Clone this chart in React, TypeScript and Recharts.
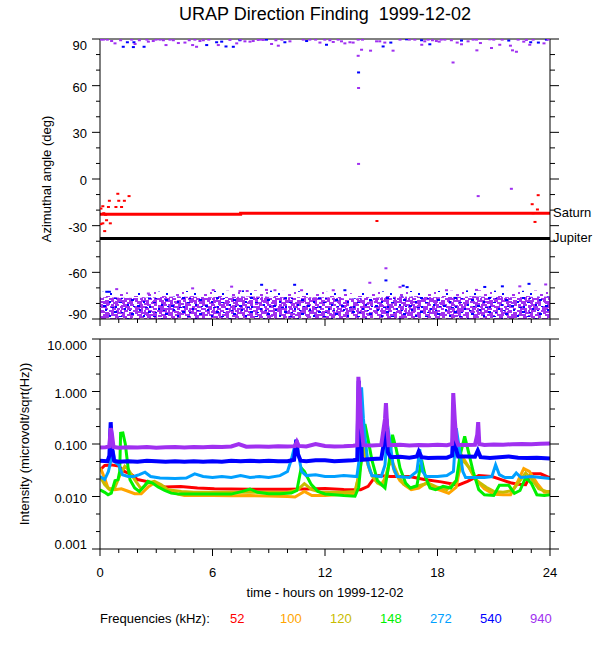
import {
  ComposedChart,
  Line,
  Scatter,
  Area,
  XAxis,
  YAxis,
  ReferenceLine,
  Label,
} from "recharts";

const FONT = "'Liberation Sans', Arial, Helvetica, sans-serif";

// ---- axes ----
const HOUR_TICKS = [0, 1, 2, 3, 4, 5, 6, 7, 8, 9, 10, 11, 12, 13, 14, 15, 16, 17, 18, 19, 20, 21, 22, 23, 24];
const HOUR_MAJOR = [0, 6, 12, 18, 24];
const ANGLE_TICKS = [-90, -80, -70, -60, -50, -40, -30, -20, -10, 0, 10, 20, 30, 40, 50, 60, 70, 80, 90];
const ANGLE_MAJOR = [-90, -60, -30, 0, 30, 60, 90];
const INTENSITY_TICKS = [0.001, 0.00215, 0.00464, 0.01, 0.0215, 0.0464, 0.1, 0.215, 0.464, 1, 2.15, 4.64, 10];
const INTENSITY_MAJOR = [0.001, 0.01, 0.1, 1, 10];

// ---- top panel: direction finding ----
const SATURN_HOURS = [0, 7.5, 7.5, 24];
const SATURN_DEG = [-22.7, -22.7, -22.0, -22.0];
const JUPITER_DEG = -38.2;

const BAND_HOURS = [0, 2, 4, 6, 8, 10, 12, 13.5, 14.2, 16, 18, 20, 22, 24];
const BAND_FLOOR = [-90, -90, -90, -90, -90, -90, -90, -90, -90, -90, -90, -90, -90, -90];
const BAND_TOP = [-76, -76.5, -75.5, -76, -75.5, -76, -76, -77, -76.5, -75.5, -76, -75.5, -76, -75.5];
const FRINGE_TOP = [-72.5, -73, -72, -72, -71.5, -72, -72.5, -73.5, -72.5, -72, -72, -71.5, -72, -71.5];

const DF_940_POINTS: [number, number][] = [
  [0.05, 89.6], [0.18, 89.6], [0.39, 89.6], [0.62, 88.7], [0.8, 87.2], [1.1, 89.2], [1.69, 89.6],
  [1.87, 86.8], [2.1, 89.2], [2.5, 89.6], [2.58, 88.3], [2.84, 88.7], [2.99, 89.6], [3.2, 89.6],
  [3.38, 89.2], [3.52, 86.1], [3.73, 89.6], [3.91, 89.2], [4.18, 87.4], [4.53, 87.7], [4.76, 89.2],
  [4.94, 86.1], [5.06, 89.6], [5.15, 85.0], [5.33, 88.7], [5.51, 89.2], [5.8, 89.6], [6.31, 86.1],
  [6.93, 89.4], [7.29, 87.2], [7.5, 89.6], [7.73, 88.5], [8.0, 88.3], [8.17, 88.7], [8.44, 89.4],
  [8.6, 89.6], [8.71, 89.4], [9.15, 86.8], [9.38, 89.2], [9.51, 85.7], [9.7, 89.6], [10.13, 88.5],
  [10.84, 89.6], [11.19, 89.6], [11.5, 89.6], [11.73, 87.7], [11.99, 89.6], [12.26, 89.2], [12.44, 88.1],
  [12.7, 89.6], [12.88, 88.5], [13.06, 87.2], [13.33, 87.9], [13.5, 87.7], [13.77, 89.6], [13.77, 79.2],
  [13.79, 58.5], [13.79, 9.7], [13.95, 83.1], [14.0, 89.6], [14.43, 82.5], [14.75, 88.5], [14.92, 88.5],
  [15.19, 87.7], [15.63, 82.5], [16.0, 89.6], [16.5, 89.6], [16.79, 89.6], [17.16, 86.3], [17.32, 88.5],
  [17.5, 89.6], [17.73, 89.2], [17.94, 88.7], [18.09, 88.3], [18.2, 89.6], [18.39, 89.6], [18.74, 89.2],
  [18.83, 74.9], [19.05, 87.7], [19.28, 86.6], [19.63, 88.5], [19.9, 89.6], [20.08, 89.6], [20.1, 82.7],
  [20.29, 87.4], [20.79, 89.8], [20.88, 84.2], [21.0, 89.6], [21.32, 86.3], [21.45, 89.6], [21.89, 85.7],
  [22.0, 82.7], [22.21, 81.8], [22.3, 89.6], [22.6, 88.3], [22.74, 89.4], [22.92, 86.3], [23.1, 89.6],
  [23.68, 87.2], [23.9, 89.6],
  [21.94, -6.3], [20.17, -11], [15.25, -57.4],
  [0.89, -70.8], [2.58, -73.6], [4.94, -70.3], [6.04, -71.4], [7.02, -69.2], [7.46, -72], [7.85, -72],
  [8.88, -71.3], [9.33, -71.5], [10.75, -71.5], [12.44, -71.5], [14.39, -66.7], [16.0, -69.5],
  [18.48, -71.5], [20.08, -71.3], [22.39, -69], [23.77, -67.8],
];

const DF_540_POINTS: [number, number][] = [
  [1.24, 85.0], [1.46, 87.9], [1.78, 84.8], [1.81, 87.9], [2.35, 85.0], [5.69, 86.1], [6.22, 87.9],
  [6.49, 88.3], [6.72, 85.2], [7.11, 85.0], [7.46, 89.2], [8.88, 89.6], [9.86, 87.9], [11.02, 88.7],
  [12.08, 86.3], [13.79, 68.5], [15.1, 85.2], [15.51, 87.7], [16.35, 89.8], [17.15, 89.2], [17.59, 86.6],
  [19.28, 89.0], [21.8, 89.0], [22.97, 87.9], [23.38, 87.7], [23.81, 89.6],
  [0.36, -72.5], [0.5, -72.5], [8.62, -68], [10.38, -68], [13.06, -71.5], [15.25, -65.2], [16.17, -68.6],
  [16.38, -69.5], [20.52, -69.4], [21.46, -69], [22.88, -67.4],
];

const DF_52_POINTS: [number, number][] = [
  [0.05, -19], [0.15, -17.5], [0.2, -22], [0.3, -23], [0.35, -26.5], [0.05, -29], [0.15, -28.5],
  [0.25, -33.5], [0.45, -18], [0.5, -14], [0.55, -28.5], [0.85, -18], [0.95, -9.5], [1.0, -14],
  [1.15, -18], [1.3, -14], [1.55, -11], [14.77, -27],
  [23.05, -16.2], [23.1, -22], [23.2, -27.6], [23.33, -19.6], [23.37, -10.4],
];

// ---- bottom panel: intensity per frequency, [hour, microvolt/sqrt(Hz)] ----
const FREQS = ["52", "100", "120", "148", "272", "540", "940"];
const FREQ_COLORS = ["#ff0000", "#ffa500", "#c8bc00", "#00f000", "#00a0ff", "#0000ff", "#a030f0"];

const I_52: [number, number][] = [
  [0, 0.032], [0.25, 0.039], [0.6, 0.04], [1, 0.038], [1.3, 0.03], [1.7, 0.026], [2.0, 0.021], [2.6, 0.019],
  [3.45, 0.0152], [4.3, 0.0155], [5.2, 0.0145], [6.1, 0.014], [7, 0.0139], [8, 0.0138], [9, 0.0138],
  [10, 0.0137], [11, 0.0139], [12, 0.0142], [13, 0.0136], [13.9, 0.0135], [14.3, 0.0156], [14.6, 0.022],
  [14.85, 0.025], [15.5, 0.024], [16.5, 0.024], [17.3, 0.021], [18.2, 0.019], [19.1, 0.0165], [19.6, 0.0195],
  [20.2, 0.025], [20.9, 0.024], [21.4, 0.021], [21.95, 0.018], [22.3, 0.0172], [22.7, 0.0168], [23.0, 0.027],
  [23.5, 0.027], [24, 0.0225],
];

const I_100: [number, number][] = [
  [0, 0.035], [0.1, 0.03], [0.25, 0.022], [0.43, 0.0145], [0.78, 0.0135], [1.14, 0.014], [1.5, 0.0126],
  [1.85, 0.0113], [2.2, 0.0113], [2.56, 0.0151], [2.9, 0.018], [3.27, 0.016], [3.62, 0.0131], [4.16, 0.0111],
  [4.5, 0.0104], [5, 0.0104], [6, 0.0104], [7, 0.0103], [8, 0.0104], [9, 0.0102], [10, 0.01], [10.4, 0.0098],
  [10.9, 0.0125], [11.3, 0.0104], [12, 0.0105], [13, 0.011], [13.6, 0.0112], [13.8, 0.025], [14.0, 0.1],
  [14.15, 0.06], [14.4, 0.03], [14.7, 0.02], [15.0, 0.017], [15.3, 0.025], [15.5, 0.06], [15.7, 0.03],
  [16.0, 0.02], [16.3, 0.016], [16.6, 0.0135], [17.0, 0.0145], [17.4, 0.018], [17.8, 0.0145], [18.2, 0.013],
  [18.6, 0.0115], [19.0, 0.015], [19.3, 0.06], [19.6, 0.04], [20.0, 0.022], [20.5, 0.014], [21.0, 0.011],
  [21.5, 0.0108], [21.9, 0.0108], [22.3, 0.02], [22.6, 0.034], [22.9, 0.03], [23.3, 0.018], [23.7, 0.012],
  [24, 0.012],
];

const I_120: [number, number][] = [
  [0, 0.024], [0.25, 0.0168], [0.52, 0.0134], [0.78, 0.0145], [1.05, 0.025], [1.32, 0.0375], [1.5, 0.033],
  [1.85, 0.0209], [2.2, 0.0139], [2.56, 0.0181], [2.9, 0.0195], [3.27, 0.0168], [3.62, 0.0135], [4.34, 0.0125],
  [5, 0.012], [6, 0.012], [7, 0.012], [8, 0.0121], [9, 0.012], [10, 0.0119], [10.55, 0.0135], [10.9, 0.0176],
  [11.3, 0.0135], [11.8, 0.012], [12, 0.012], [13, 0.012], [13.6, 0.0125], [13.85, 0.03], [14.05, 0.08],
  [14.25, 0.05], [14.5, 0.025], [14.8, 0.018], [15.1, 0.016], [15.4, 0.04], [15.6, 0.045], [15.9, 0.025],
  [16.2, 0.017], [16.6, 0.0145], [17.0, 0.016], [17.5, 0.018], [18.0, 0.015], [18.5, 0.0135], [19.0, 0.02],
  [19.35, 0.05], [19.7, 0.035], [20.1, 0.02], [20.6, 0.015], [21.0, 0.0125], [21.5, 0.012], [22.0, 0.013],
  [22.4, 0.02], [22.7, 0.028], [23.0, 0.022], [23.4, 0.014], [23.8, 0.0125], [24, 0.0125],
];

const I_148: [number, number][] = [
  [0, 0.0134], [0.25, 0.012], [0.43, 0.0108], [0.6, 0.0116], [0.8, 0.02], [0.96, 0.0209], [1.05, 0.03],
  [1.1, 0.16], [1.22, 0.162], [1.35, 0.1], [1.49, 0.0375], [1.6, 0.0209], [1.85, 0.0145], [2.1, 0.0125],
  [2.38, 0.016], [2.56, 0.0194], [2.8, 0.0181], [3.1, 0.0152], [3.45, 0.0131], [3.8, 0.0116], [4.2, 0.0111],
  [5, 0.0111], [6, 0.0112], [7, 0.0111], [7.6, 0.0125], [8.0, 0.0139], [8.4, 0.012], [9.0, 0.0113],
  [9.6, 0.0113], [10.2, 0.0116], [10.5, 0.013], [10.73, 0.035], [10.9, 0.03], [11.27, 0.0168], [11.62, 0.0125],
  [12, 0.0112], [13, 0.0104], [13.6, 0.0101], [13.8, 0.015], [13.95, 0.06], [14.13, 0.24], [14.3, 0.12],
  [14.5, 0.05], [14.8, 0.02], [15.2, 0.0145], [15.4, 0.04], [15.6, 0.15], [15.8, 0.08], [16.0, 0.035],
  [16.3, 0.018], [16.55, 0.0145], [16.9, 0.016], [17.15, 0.05], [17.35, 0.024], [17.6, 0.0145], [17.9, 0.0135],
  [18.3, 0.0156], [18.7, 0.0145], [19.0, 0.02], [19.2, 0.06], [19.45, 0.14], [19.7, 0.06], [19.9, 0.03],
  [20.2, 0.0135], [20.5, 0.0108], [21.0, 0.0105], [21.3, 0.0163], [21.8, 0.0163], [22.1, 0.0115], [22.4, 0.013],
  [22.7, 0.023], [23.0, 0.018], [23.3, 0.0108], [23.7, 0.0105], [24, 0.0108],
];

const I_272: [number, number][] = [
  [0, 0.024], [0.25, 0.021], [0.45, 0.03], [0.7, 0.075], [0.8, 0.045], [1.0, 0.04], [1.2, 0.026], [1.5, 0.024],
  [1.8, 0.024], [2.1, 0.026], [2.4, 0.029], [2.7, 0.024], [3.2, 0.0225], [4, 0.022], [4.6, 0.0225], [5.05, 0.027],
  [5.5, 0.024], [6, 0.023], [6.5, 0.024], [7, 0.023], [7.5, 0.025], [8, 0.023], [8.5, 0.024], [9, 0.023],
  [9.6, 0.025], [10.0, 0.03], [10.2, 0.05], [10.47, 0.12], [10.6, 0.06], [10.75, 0.03], [11, 0.025], [11.5, 0.026],
  [12, 0.024], [12.5, 0.024], [13, 0.025], [13.7, 0.024], [13.85, 0.06], [13.95, 1.2], [14.05, 0.3], [14.15, 0.12],
  [14.3, 0.04], [14.5, 0.025], [15, 0.024], [15.2, 0.04], [15.34, 0.22], [15.5, 0.09], [15.65, 0.035],
  [15.85, 0.024], [16.5, 0.023], [16.9, 0.03], [17.05, 0.08], [17.2, 0.03], [17.4, 0.024], [18, 0.024],
  [18.5, 0.025], [18.85, 0.03], [19.0, 0.2], [19.15, 0.09], [19.35, 0.03], [19.5, 0.023], [20.5, 0.023],
  [20.9, 0.024], [21.1, 0.04], [21.3, 0.026], [21.6, 0.023], [22.0, 0.023], [22.2, 0.028], [22.45, 0.023],
  [23, 0.024], [23.5, 0.023], [24, 0.022],
];

const I_540: [number, number][] = [
  [0, 0.048], [0.4, 0.047], [0.5, 0.06], [0.57, 0.26], [0.65, 0.08], [0.75, 0.048], [1, 0.046], [1.5, 0.047],
  [2, 0.046], [2.5, 0.048], [3, 0.047], [3.5, 0.046], [4, 0.047], [4.5, 0.046], [5, 0.047], [5.5, 0.046],
  [6, 0.047], [6.5, 0.046], [7, 0.048], [7.5, 0.047], [8, 0.048], [8.5, 0.047], [9, 0.048], [9.5, 0.047],
  [10, 0.047], [10.35, 0.05], [10.47, 0.12], [10.55, 0.065], [10.7, 0.048], [11, 0.047], [11.5, 0.049],
  [12, 0.049], [12.5, 0.047], [13, 0.048], [13.5, 0.049], [13.72, 0.05], [13.8, 1.6], [13.88, 0.3],
  [13.97, 0.05], [14.5, 0.052], [15, 0.053], [15.22, 0.15], [15.27, 0.3], [15.35, 0.07], [15.5, 0.056],
  [16, 0.057], [16.5, 0.055], [16.9, 0.058], [17.0, 0.072], [17.15, 0.056], [17.5, 0.054], [18, 0.055],
  [18.5, 0.055], [18.78, 0.06], [18.85, 0.2], [18.95, 0.09], [19.1, 0.058], [19.5, 0.058], [20, 0.057],
  [20.15, 0.075], [20.3, 0.056], [20.8, 0.054], [21.3, 0.056], [21.8, 0.058], [22.3, 0.055], [22.8, 0.054],
  [23.3, 0.055], [24, 0.053],
];

const I_940: [number, number][] = [
  [0, 0.086], [0.3, 0.087], [0.5, 0.09], [0.57, 0.2], [0.64, 0.15], [0.72, 0.088], [1, 0.085], [1.5, 0.087],
  [2, 0.086], [2.5, 0.088], [3, 0.085], [3.5, 0.087], [4, 0.088], [4.5, 0.086], [5, 0.088], [5.5, 0.087],
  [6, 0.089], [6.5, 0.088], [7, 0.09], [7.4, 0.1], [7.8, 0.089], [8.5, 0.09], [9, 0.089], [9.5, 0.091],
  [10, 0.09], [10.4, 0.091], [10.5, 0.11], [10.6, 0.092], [11, 0.09], [11.5, 0.1], [12, 0.092], [12.5, 0.09],
  [13, 0.091], [13.5, 0.093], [13.72, 0.095], [13.78, 1.9], [13.85, 0.9], [13.92, 0.25], [14.05, 0.095],
  [14.5, 0.094], [15, 0.096], [15.2, 0.3], [15.25, 0.6], [15.32, 0.2], [15.4, 0.095], [16, 0.097],
  [16.5, 0.094], [17, 0.096], [17.5, 0.095], [18, 0.097], [18.5, 0.095], [18.78, 0.1], [18.84, 0.93],
  [18.92, 0.3], [19.0, 0.12], [19.1, 0.097], [19.5, 0.096], [20, 0.097], [20.12, 0.15], [20.17, 0.26],
  [20.23, 0.1], [20.5, 0.096], [21, 0.098], [21.5, 0.097], [22, 0.099], [22.5, 0.1], [23, 0.099],
  [23.5, 0.101], [24, 0.102],
];

const INTENSITY_SERIES = [I_52, I_100, I_120, I_148, I_272, I_540, I_940];

const toRows = (pts: [number, number][]) => pts.map(([h, v]) => ({ h, v }));

function hourTick(side: "top" | "bottom", withLabels: boolean) {
  return (p: any) => {
    const v = p.payload.value;
    const major = HOUR_MAJOR.includes(v);
    const len = major ? 7 : 4;
    const dir = side === "top" ? -1 : 1;
    return (
      <g>
        <line x1={p.x} x2={p.x} y1={p.y} y2={p.y + dir * len} stroke="#000" />
        {withLabels && major ? (
          <text x={p.x} y={p.y + 28} textAnchor="middle" fontFamily={FONT} fontSize={13} fill="#000">
            {v}
          </text>
        ) : null}
      </g>
    );
  };
}

function valueTick(
  side: "left" | "right",
  majors: number[],
  lo: number,
  hi: number,
  fmt: (v: number) => string
) {
  return (p: any) => {
    const v = p.payload.value;
    const major = majors.includes(v);
    const len = side === "left" ? (major ? 8 : 4) : major ? 9 : 5;
    const dir = side === "left" ? -1 : 1;
    let cy = p.y + 1.5;
    if (v === hi) cy = p.y + 6;
    if (v === lo) cy = p.y - 4.5;
    return (
      <g>
        <line x1={p.x} x2={p.x + dir * len} y1={p.y} y2={p.y} stroke="#000" />
        {side === "left" && major ? (
          <text
            x={p.x - len - 5}
            y={cy}
            dy="0.35em"
            textAnchor="end"
            fontFamily={FONT}
            fontSize={13}
            fill="#000"
          >
            {fmt(v)}
          </text>
        ) : null}
      </g>
    );
  };
}

function yTitle(text: string, cx: number) {
  return (props: any) => {
    const vb = props.viewBox || {};
    const cy = (vb.y ?? 0) + (vb.height ?? 0) / 2;
    return (
      <text
        x={cx}
        y={cy}
        transform={`rotate(-90, ${cx}, ${cy})`}
        textAnchor="middle"
        dominantBaseline="central"
        fontFamily={FONT}
        fontSize={13}
        fill="#000"
      >
        {text}
      </text>
    );
  };
}

const AXIS_LINE = { stroke: "#000", strokeWidth: 1 };

function DirectionPanel() {
  const band = BAND_HOURS.map((h, i) => ({ h, v: [BAND_FLOOR[i], BAND_TOP[i]] }));
  const fringe = BAND_HOURS.map((h, i) => ({ h, v: [BAND_TOP[i], FRINGE_TOP[i]] }));
  const saturn = SATURN_HOURS.map((h, i) => ({ h, v: SATURN_DEG[i] }));
  const dot = (color: string) => (p: any) => (
    <rect x={p.cx - 1.5} y={p.cy - 1} width={3} height={2} fill={color} />
  );

  return (
    <ComposedChart width={600} height={345} margin={{ top: 0, right: 0, bottom: 0, left: 0 }}>
      <defs>
        <pattern id="dfDense" width={24} height={12} patternUnits="userSpaceOnUse">
          <g fill="#a030f0">
            <rect x={0} y={0} width={5} height={2} />
            <rect x={9} y={0} width={4} height={2} />
            <rect x={15} y={0} width={3} height={2} />
            <rect x={21} y={0} width={3} height={2} />
            <rect x={2} y={2} width={3} height={2} />
            <rect x={7} y={2} width={6} height={2} />
            <rect x={17} y={2} width={5} height={2} />
            <rect x={3} y={4} width={4} height={2} />
            <rect x={10} y={4} width={3} height={2} />
            <rect x={19} y={4} width={4} height={2} />
            <rect x={0} y={6} width={3} height={2} />
            <rect x={5} y={6} width={5} height={2} />
            <rect x={14} y={6} width={6} height={2} />
            <rect x={1} y={8} width={4} height={2} />
            <rect x={9} y={8} width={3} height={2} />
            <rect x={16} y={8} width={4} height={2} />
            <rect x={21} y={8} width={2} height={2} />
            <rect x={0} y={10} width={2} height={2} />
            <rect x={4} y={10} width={4} height={2} />
            <rect x={13} y={10} width={5} height={2} />
            <rect x={20} y={10} width={3} height={2} />
          </g>
        </pattern>
        <pattern id="dfDense2" width={37} height={10} patternUnits="userSpaceOnUse">
          <g fill="#a030f0">
            <rect x={4} y={1} width={4} height={2} />
            <rect x={13} y={0} width={3} height={2} />
            <rect x={26} y={1} width={5} height={2} />
            <rect x={33} y={3} width={3} height={2} />
            <rect x={0} y={4} width={3} height={2} />
            <rect x={10} y={5} width={4} height={2} />
            <rect x={20} y={4} width={3} height={2} />
            <rect x={29} y={6} width={4} height={2} />
            <rect x={6} y={8} width={3} height={2} />
            <rect x={16} y={8} width={5} height={2} />
            <rect x={24} y={8} width={2} height={2} />
          </g>
        </pattern>
        <pattern id="dfMix" width={34} height={14} patternUnits="userSpaceOnUse">
          <g fill="#0000ff">
            <rect x={3} y={1} width={2} height={2} />
            <rect x={12} y={3} width={3} height={2} />
            <rect x={22} y={0} width={2} height={2} />
            <rect x={29} y={5} width={3} height={2} />
            <rect x={7} y={7} width={2} height={2} />
            <rect x={17} y={8} width={3} height={1} />
            <rect x={25} y={10} width={2} height={2} />
            <rect x={1} y={11} width={3} height={2} />
            <rect x={13} y={12} width={2} height={2} />
            <rect x={31} y={12} width={2} height={1} />
            <rect x={19} y={4} width={2} height={1} />
            <rect x={9} y={13} width={3} height={1} />
            <rect x={27} y={2} width={2} height={1} />
          </g>
        </pattern>
        <pattern id="dfSparse" width={28} height={8} patternUnits="userSpaceOnUse">
          <rect x={2} y={1} width={3} height={2} fill="#a030f0" />
          <rect x={14} y={4} width={2} height={2} fill="#a030f0" />
          <rect x={22} y={0} width={4} height={1} fill="#a030f0" />
          <rect x={8} y={6} width={3} height={2} fill="#a030f0" />
          <rect x={18} y={2} width={2} height={2} fill="#0000ff" />
          <rect x={26} y={5} width={2} height={2} fill="#0000ff" />
        </pattern>
      </defs>

      <XAxis
        dataKey="h"
        type="number"
        domain={[0, 24]}
        allowDataOverflow
        ticks={HOUR_TICKS}
        interval={0}
        tickSize={0}
        tickMargin={0}
        tickLine={false}
        axisLine={AXIS_LINE}
        tick={hourTick("bottom", false)}
        height={26}
      />
      <XAxis
        xAxisId="top"
        orientation="top"
        type="number"
        domain={[0, 24]}
        allowDataOverflow
        ticks={HOUR_TICKS}
        interval={0}
        tickSize={0}
        tickMargin={0}
        tickLine={false}
        axisLine={AXIS_LINE}
        tick={hourTick("top", false)}
        height={39}
      />
      <YAxis
        dataKey="v"
        type="number"
        domain={[-90, 90]}
        allowDataOverflow
        ticks={ANGLE_TICKS}
        interval={0}
        tickSize={0}
        tickMargin={0}
        tickLine={false}
        axisLine={AXIS_LINE}
        tick={valueTick("left", ANGLE_MAJOR, -90, 90, (v) => String(v))}
        width={100}
      >
        <Label content={yTitle("Azimuthal angle (deg)", 46)} />
      </YAxis>
      <YAxis
        yAxisId="right"
        orientation="right"
        type="number"
        domain={[-90, 90]}
        allowDataOverflow
        ticks={ANGLE_TICKS}
        interval={0}
        tickSize={0}
        tickMargin={0}
        tickLine={false}
        axisLine={AXIS_LINE}
        tick={valueTick("right", ANGLE_MAJOR, -90, 90, (v) => String(v))}
        width={50}
      />

      <Area data={band} dataKey="v" fill="url(#dfDense)" fillOpacity={1} stroke="none" isAnimationActive={false} dot={false} activeDot={false} />
      <Area data={band} dataKey="v" fill="url(#dfDense2)" fillOpacity={1} stroke="none" isAnimationActive={false} dot={false} activeDot={false} />
      <Area data={band} dataKey="v" fill="url(#dfMix)" fillOpacity={1} stroke="none" isAnimationActive={false} dot={false} activeDot={false} />
      <Area data={fringe} dataKey="v" fill="url(#dfSparse)" fillOpacity={1} stroke="none" isAnimationActive={false} dot={false} activeDot={false} />

      <Scatter data={toRows(DF_540_POINTS)} dataKey="v" shape={dot("#0000ff")} isAnimationActive={false} />
      <Scatter data={toRows(DF_940_POINTS)} dataKey="v" shape={dot("#a030f0")} isAnimationActive={false} />
      <Scatter data={toRows(DF_52_POINTS)} dataKey="v" shape={dot("#ff0000")} isAnimationActive={false} />

      <Line data={saturn} dataKey="v" type="linear" stroke="#ff0000" strokeWidth={3} dot={false} activeDot={false} isAnimationActive={false} />
      <ReferenceLine
        y={SATURN_DEG[SATURN_DEG.length - 1]}
        stroke="transparent"
        label={{ value: "Saturn", position: "right", offset: 3, fill: "#000", fontSize: 13, fontFamily: FONT, dy: -1 }}
      />
      <ReferenceLine
        y={JUPITER_DEG}
        stroke="#000"
        strokeWidth={3}
        label={{ value: "Jupiter", position: "right", offset: 3, fill: "#000", fontSize: 13, fontFamily: FONT, dy: -1 }}
      />
    </ComposedChart>
  );
}

function IntensityPanel() {
  return (
    <ComposedChart width={600} height={290} margin={{ top: 0, right: 0, bottom: 0, left: 0 }}>
      <XAxis
        dataKey="h"
        type="number"
        domain={[0, 24]}
        allowDataOverflow
        ticks={HOUR_TICKS}
        interval={0}
        tickSize={0}
        tickMargin={0}
        tickLine={false}
        axisLine={AXIS_LINE}
        tick={hourTick("bottom", true)}
        height={61}
      >
        <Label
          content={(props: any) => {
            const vb = props.viewBox || {};
            return (
              <text
                x={(vb.x ?? 0) + (vb.width ?? 0) / 2}
                y={(vb.y ?? 0) + 48}
                textAnchor="middle"
                fontFamily={FONT}
                fontSize={13}
                fill="#000"
              >
                time - hours on 1999-12-02
              </text>
            );
          }}
        />
      </XAxis>
      <XAxis
        xAxisId="top"
        orientation="top"
        type="number"
        domain={[0, 24]}
        allowDataOverflow
        ticks={HOUR_TICKS}
        interval={0}
        tickSize={0}
        tickMargin={0}
        tickLine={false}
        axisLine={AXIS_LINE}
        tick={hourTick("top", false)}
        height={19}
      />
      <YAxis
        dataKey="v"
        type="number"
        scale="log"
        domain={[0.001, 10]}
        allowDataOverflow
        ticks={INTENSITY_TICKS}
        interval={0}
        tickSize={0}
        tickMargin={0}
        tickLine={false}
        axisLine={AXIS_LINE}
        tick={valueTick("left", INTENSITY_MAJOR, 0.001, 10, (v) => v.toFixed(3))}
        width={100}
      >
        <Label content={yTitle("Intensity (microvolt/sqrt(Hz))", 24)} />
      </YAxis>
      <YAxis
        yAxisId="right"
        orientation="right"
        type="number"
        scale="log"
        domain={[0.001, 10]}
        allowDataOverflow
        ticks={INTENSITY_TICKS}
        interval={0}
        tickSize={0}
        tickMargin={0}
        tickLine={false}
        axisLine={AXIS_LINE}
        tick={valueTick("right", INTENSITY_MAJOR, 0.001, 10, (v) => v.toFixed(3))}
        width={50}
      />

      {INTENSITY_SERIES.map((pts, i) => (
        <Line
          key={FREQS[i]}
          data={toRows(pts)}
          dataKey="v"
          name={`${FREQS[i]} kHz`}
          type="linear"
          stroke={FREQ_COLORS[i]}
          strokeWidth={i >= 5 ? 4 : 3}
          dot={false}
          activeDot={false}
          isAnimationActive={false}
        />
      ))}
    </ComposedChart>
  );
}

export default function App() {
  return (
    <div
      style={{
        position: "absolute",
        left: 0,
        top: 0,
        width: 600,
        height: 650,
        background: "#fff",
        fontFamily: FONT,
        color: "#000",
      }}
    >
      <div
        style={{
          position: "absolute",
          left: 100,
          top: 5,
          width: 450,
          textAlign: "center",
          fontSize: 18,
          lineHeight: "18px",
          whiteSpace: "pre",
        }}
      >
        {"URAP Direction Finding  1999-12-02"}
      </div>
      <div style={{ position: "absolute", left: 0, top: 0 }}>
        <DirectionPanel />
      </div>
      <div style={{ position: "absolute", left: 0, top: 320 }}>
        <IntensityPanel />
      </div>
      <div
        style={{
          position: "absolute",
          left: 100,
          top: 612,
          display: "flex",
          fontSize: 13,
          lineHeight: "13px",
          whiteSpace: "nowrap",
        }}
      >
        <span style={{ flex: "0 0 130px" }}>Frequencies (kHz):</span>
        {FREQS.map((f, i) => (
          <span key={f} style={{ flex: "0 0 50px", color: FREQ_COLORS[i] }}>
            {f}
          </span>
        ))}
      </div>
    </div>
  );
}
